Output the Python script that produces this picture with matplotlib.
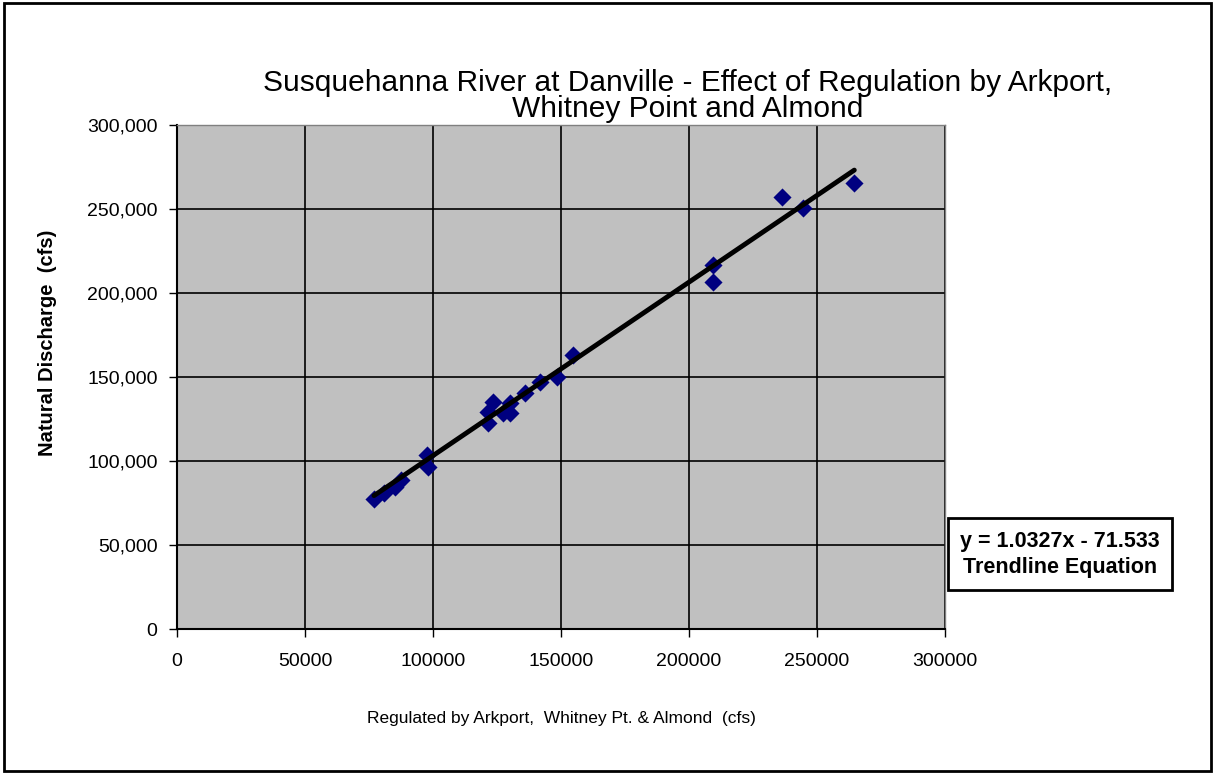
import matplotlib
matplotlib.use('Agg')
import matplotlib.pyplot as plt
from matplotlib.patches import Rectangle
from matplotlib.ticker import FuncFormatter
import numpy as np

plt.rcParams['font.family'] = ['Liberation Sans', 'DejaVu Sans']

# regulated (x) vs natural (y) discharge, cfs
regulated = [76950, 80860, 85160, 87370, 97530, 97920, 121620, 121620, 123560,
             127460, 130080, 130080, 135940, 141800, 148310, 154820,
             209500, 209500, 236200, 244400, 264570]
natural = [77200, 81150, 84700, 88700, 103570, 96250, 129350, 122440, 135300,
           128380, 134330, 128380, 140280, 147200, 150180, 163100,
           216670, 206750, 257340, 250400, 265300]

slope = 1.0327
intercept = -71.533

x_ticks = [0, 50000, 100000, 150000, 200000, 250000, 300000]
y_ticks = [0, 50000, 100000, 150000, 200000, 250000, 300000]

fig = plt.figure(figsize=(12.15, 7.74), dpi=100)
ax = fig.add_axes([177 / 1215, 1 - 629 / 774, 768 / 1215, 504 / 774])
ax.set_facecolor('#c0c0c0')

ax.scatter(regulated, natural, marker='D', s=85, color='#000080', zorder=3, linewidths=0)
xs = np.array([min(regulated), max(regulated)])
ax.plot(xs, slope * xs + intercept, color='black', lw=3.5, zorder=4, solid_capstyle='round')

ax.set_xlim(0, 300000)
ax.set_ylim(0, 300000)
ax.set_xticks(x_ticks)
ax.set_yticks(y_ticks)
ax.yaxis.set_major_formatter(FuncFormatter(lambda v, p: f'{int(v):,}'))
ax.xaxis.set_major_formatter(FuncFormatter(lambda v, p: f'{int(v)}'))
ax.grid(True, color='black', lw=1.2)
ax.set_axisbelow(True)
ax.tick_params(direction='out', length=6, width=1, labelsize=14, colors='black')
ax.tick_params(axis='x', pad=11)
ax.tick_params(axis='y', pad=8)
for s in ['top', 'right']:
    ax.spines[s].set_color('#808080')
    ax.spines[s].set_linewidth(1)
for s in ['left', 'bottom']:
    ax.spines[s].set_color('black')
    ax.spines[s].set_linewidth(1.5)

fig.text(48 / 1215, 1 - 343 / 774, 'Natural Discharge  (cfs)', rotation=90, fontsize=14.5,
         fontweight='bold', ha='center', va='center')
fig.text(561 / 1215, 1 - 718 / 774, 'Regulated by Arkport,  Whitney Pt. & Almond  (cfs)',
         fontsize=12.5, ha='center', va='center')

fig.text(688 / 1215, 1 - 96 / 774,
         'Susquehanna River at Danville - Effect of Regulation by Arkport,\nWhitney Point and Almond',
         fontsize=21.5, ha='center', va='center', linespacing=0.93)

# trendline equation box
fig.patches.append(Rectangle((948 / 1215, 1 - 590 / 774), 224 / 1215, 72 / 774,
                             transform=fig.transFigure, facecolor='white',
                             edgecolor='black', lw=2))
fig.text(1060 / 1215, 1 - 541 / 774, 'y = 1.0327x - 71.533', fontsize=15.5,
         fontweight='bold', ha='center', va='center')
fig.text(1060 / 1215, 1 - 568 / 774, 'Trendline Equation', fontsize=15.5,
         fontweight='bold', ha='center', va='center')

fig.patches.append(Rectangle((0.003, 0.004), 0.994, 0.992, transform=fig.transFigure,
                             fill=False, edgecolor='black', lw=2))

fig.savefig('out.png', dpi=100)
